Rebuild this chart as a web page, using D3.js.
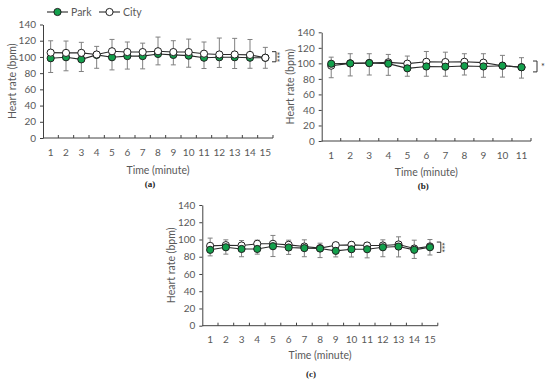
<!DOCTYPE html>
<html><head><meta charset="utf-8">
<script src="https://cdn.jsdelivr.net/npm/d3@7"></script>
<style>
html,body{margin:0;padding:0;background:#fff;}
svg{display:block;}
</style></head>
<body><svg id="chart" width="550" height="388"></svg>
<script>
// ---------- DATA ----------
const seriesNames = ["Park", "City"];
const yTickValues = [0, 20, 40, 60, 80, 100, 120, 140];

const minutesA = [1,2,3,4,5,6,7,8,9,10,11,12,13,14,15];
const parkA    = [98.4, 99.6, 97, 102.5, 99.6, 101, 101, 103.7, 102.5, 101.6, 99, 99.6, 99.6, 99, 99];
const cityA    = [105.3, 105, 105, 103, 107, 106, 106, 107, 106, 106, 104, 103, 103, 102.5, 99];
const parkErrA = [17.6, 16.7, 15, 16.5, 15.6, 16, 15.7, 13.5, 12.3, 14.3, 13.3, 12.6, 13.9, 13, 13];
const cityErrA = [14.6, 14.6, 13, 10, 14.6, 12.4, 11, 17.5, 14, 16, 14.4, 20.3, 19.9, 19, 12.8];

const minutesB = [1,2,3,4,5,6,7,8,9,10,11];
const parkB    = [99.5, 100, 100.4, 99.6, 93.6, 96, 95.7, 96.6, 96, 97, 95];
const cityB    = [97, 100, 100.4, 101.3, 99.6, 102, 101.7, 102, 100.9, 97, 95];
const parkErrB = [18, 16.2, 15.4, 15, 10.2, 12.6, 12.3, 11.6, 13.9, 14.7, 14];
const cityErrB = [11, 12.4, 12, 10.2, 9.8, 13.3, 12.7, 10.4, 11.5, 13.3, 12.3];

const minutesC = [1,2,3,4,5,6,7,8,9,10,11,12,13,14,15];
const parkC    = [88, 91, 89, 89, 92.2, 90.7, 90, 89.5, 86.8, 88.7, 88.7, 91, 91.8, 88, 91];
const cityC    = [92.6, 93.4, 93, 95, 95, 93.8, 91.8, 90, 93.4, 93.8, 93, 93, 94.2, 89.5, 92];
const parkErrC = [7, 8, 9, 6, 12, 8, 10, 10.5, 7, 9, 10, 11, 12, 10, 9];
const cityErrC = [9, 6.2, 5.8, 4.2, 9.7, 5.4, 7.8, 5.7, 3.1, 3.5, 3.5, 6.6, 8.9, 9.7, 8];

// significance brackets: [low value, high value], label
const sigA = [94, 106.5], sigTextA = "***";
const sigB = [89, 103],  sigTextB = "*";
const sigC = [85, 97],   sigTextC = "***";

const panelLabels = ["(a)", "(b)", "(c)"];
const xTitle = "Time (minute)";
const yTitle = "Heart rate (bpm)";

// ---------- STYLE ----------
const GREEN = "#13a04c";
const LINE = "#2b2b2b";
const ERR = "#808080";
const TXT = "#595959";
const AX = "#404040";
const FONT = "Lato, 'Open Sans', sans-serif";

const svg = d3.select("#chart");

function drawPanel(cfg) {
  const g = svg.append("g");
  const x = d3.scaleBand().domain(cfg.minutes).range([cfg.x0, cfg.x1]);
  const y = d3.scaleLinear().domain([0, 140]).range([cfg.yB, cfg.yT]);
  const cx = d => x(d) + x.bandwidth() / 2;

  // y axis
  const ya = d3.axisLeft(y).tickValues(yTickValues).tickSizeInner(3).tickSizeOuter(0).tickPadding(4);
  const yg = g.append("g").attr("transform", `translate(${cfg.x0},0)`).call(ya);
  yg.select(".domain").attr("stroke", AX);
  yg.selectAll(".tick line").attr("stroke", AX);
  yg.selectAll(".tick text").attr("fill", TXT).style("font-family", FONT).style("font-size", "10px");

  // x axis (labels at centers, ticks at band boundaries pointing inward)
  const xa = d3.axisBottom(x).tickSize(0).tickPadding(cfg.xPad);
  const xg = g.append("g").attr("transform", `translate(0,${cfg.yB})`).call(xa);
  xg.select(".domain").remove();
  xg.selectAll(".tick text").attr("fill", TXT).style("font-family", FONT).style("font-size", "10px");
  g.append("line").attr("x1", cfg.x0).attr("x2", cfg.x1).attr("y1", cfg.yB).attr("y2", cfg.yB).attr("stroke", AX);
  const bounds = cfg.minutes.slice(1).map(d => x(d)).concat([cfg.x1]);
  g.selectAll(".bt").data(bounds).enter().append("line")
    .attr("x1", d => d).attr("x2", d => d).attr("y1", cfg.yB).attr("y2", cfg.yB - 3).attr("stroke", AX);

  // titles
  g.append("text").attr("x", (cfg.x0 + cfg.x1) / 2).attr("y", cfg.xTitleY).attr("text-anchor", "middle")
    .attr("fill", TXT).style("font-family", FONT).style("font-size", "10.5px").text(xTitle);
  g.append("text").attr("transform", `translate(${cfg.yTitleX},${(cfg.yT + cfg.yB) / 2}) rotate(-90)`)
    .attr("text-anchor", "middle").attr("fill", TXT).style("font-family", FONT).style("font-size", "10.5px").text(yTitle);
  g.append("text").attr("x", (cfg.x0 + cfg.x1) / 2 + cfg.labelDx).attr("y", cfg.labelY).attr("text-anchor", "middle")
    .attr("fill", "#222").style("font-family", "'Liberation Serif', serif").style("font-weight", "bold").style("font-size", "9px").text(cfg.label);

  const park = cfg.minutes.map((m, i) => ({m, v: cfg.park[i], e: cfg.parkErr[i]}));
  const city = cfg.minutes.map((m, i) => ({m, v: cfg.city[i], e: cfg.cityErr[i]}));

  // error bars
  function errBars(data, dir) {
    const eg = g.append("g");
    data.forEach(d => {
      const yEnd = y(d.v + dir * d.e);
      eg.append("line").attr("x1", cx(d.m)).attr("x2", cx(d.m)).attr("y1", y(d.v)).attr("y2", yEnd).attr("stroke", ERR).attr("stroke-width", 1);
      eg.append("line").attr("x1", cx(d.m) - 2.5).attr("x2", cx(d.m) + 2.5).attr("y1", yEnd).attr("y2", yEnd).attr("stroke", ERR).attr("stroke-width", 1);
    });
  }
  errBars(city, 1);
  errBars(park, -1);

  const line = d3.line().x(d => cx(d.m)).y(d => y(d.v));
  function series(data, fill) {
    g.append("path").attr("d", line(data)).attr("fill", "none").attr("stroke", LINE).attr("stroke-width", 1.1);
  }
  function markers(data, fill) {
    g.selectAll(null).data(data).enter().append("circle")
      .attr("cx", d => cx(d.m)).attr("cy", d => y(d.v)).attr("r", 3.6)
      .attr("fill", fill).attr("stroke", "#1f1f1f").attr("stroke-width", 1);
  }
  series(park); series(city);
  if (cfg.cityOnTop) { markers(park, GREEN); markers(city, "#fff"); }
  else { markers(city, "#fff"); markers(park, GREEN); }

  // significance bracket
  const bx = cfg.x1 + cfg.brDx;
  const y1 = y(cfg.sig[1]), y0 = y(cfg.sig[0]);
  g.append("path").attr("d", `M${bx - 4},${y1}H${bx}V${y0}H${bx - 4}`).attr("fill", "none").attr("stroke", "#333").attr("stroke-width", 1);
  if (cfg.sigText.length > 1) {
    g.append("text").attr("transform", `translate(${bx + 4},${(y0 + y1) / 2}) rotate(90)`)
      .attr("text-anchor", "middle").attr("dy", "0.75em").attr("fill", "#333")
      .style("font-family", FONT).style("font-size", "9px").style("letter-spacing", "-0.5px").text(cfg.sigText);
  } else {
    g.append("text").attr("x", bx + 4).attr("y", (y0 + y1) / 2 + 4).attr("fill", "#333")
      .style("font-family", FONT).style("font-size", "9px").text(cfg.sigText);
  }
}

drawPanel({minutes: minutesA, park: parkA, city: cityA, parkErr: parkErrA, cityErr: cityErrA,
  x0: 43, x1: 273, yT: 24.5, yB: 138, xPad: 11, xTitleY: 174, yTitleX: 16, labelY: 186.5, labelDx: -8,
  label: panelLabels[0], sig: sigA, sigText: sigTextA, brDx: 3, cityOnTop: true});
drawPanel({minutes: minutesB, park: parkB, city: cityB, parkErr: parkErrB, cityErr: cityErrB,
  x0: 321.7, x1: 531, yT: 32.3, yB: 141, xPad: 10.5, xTitleY: 175.5, yTitleX: 294, labelY: 189, labelDx: -3,
  label: panelLabels[1], sig: sigB, sigText: sigTextB, brDx: 6, cityOnTop: false});
drawPanel({minutes: minutesC, park: parkC, city: cityC, parkErr: parkErrC, cityErr: cityErrC,
  x0: 202.3, x1: 437.8, yT: 205, yB: 325.7, xPad: 10, xTitleY: 359, yTitleX: 175, labelY: 376.5, labelDx: -9,
  label: panelLabels[2], sig: sigC, sigText: sigTextC, brDx: 3, cityOnTop: false});

// legend (panel a)
const leg = svg.append("g");
const legItems = [{name: seriesNames[0], fill: GREEN, x: 47}, {name: seriesNames[1], fill: "#fff", x: 99}];
legItems.forEach(it => {
  leg.append("line").attr("x1", it.x).attr("x2", it.x + 21).attr("y1", 12).attr("y2", 12).attr("stroke", LINE).attr("stroke-width", 1.1);
  leg.append("circle").attr("cx", it.x + 10.5).attr("cy", 12).attr("r", 3.6).attr("fill", it.fill).attr("stroke", "#1f1f1f");
  leg.append("text").attr("x", it.x + 24).attr("y", 15.5).attr("fill", TXT).style("font-family", FONT).style("font-size", "10.5px").text(it.name);
});
</script></body></html>
